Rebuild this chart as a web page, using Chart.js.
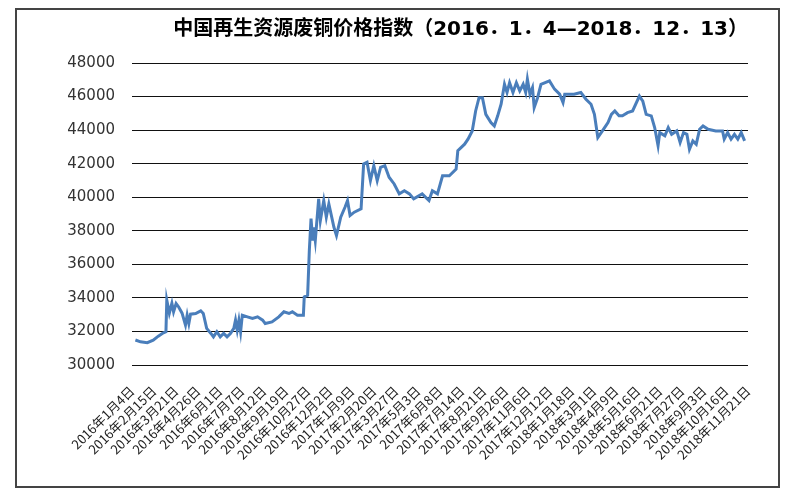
<!DOCTYPE html>
<html>
<head>
<meta charset="utf-8">
<script src="https://cdn.jsdelivr.net/npm/chart.js@4.4.1/dist/chart.umd.min.js"></script>
<style>
  html, body { margin: 0; padding: 0; background: #fff; }
  #wrap { width: 800px; height: 500px; }
</style>
</head>
<body>
<div id="wrap"><canvas id="canvas" width="800" height="500"></canvas></div>
<script>
// trading day index (from 2016.1.4) and price
var days = [
  0, 6, 14, 21, 27, 33, 36, 37, 40, 43, 45, 48, 51, 55, 59, 61, 63, 65, 71, 77,
  80, 84, 89, 92, 96, 100, 104, 108, 112, 116, 118, 120, 122, 124, 126, 132, 138, 144, 150, 153,
  161, 169, 175, 181, 185, 191, 198, 199, 203, 205, 207, 209, 210, 212, 216, 218, 222, 225, 228, 234,
  237, 242, 247, 250, 253, 258, 266, 269, 273, 277, 281, 285, 289, 294, 299, 305, 311, 317, 323, 328,
  338, 346, 350, 356, 362, 370, 378, 380, 388, 392, 397, 401, 405, 409, 413, 419, 423, 427, 431, 435,
  438, 441, 445, 449, 453, 457, 460, 462, 465, 468, 470, 474, 478, 488, 494, 500, 504, 506, 517, 525,
  531, 537, 541, 545, 549, 553, 557, 561, 565, 570, 574, 580, 586, 594, 598, 602, 608, 612, 616, 618,
  624, 628, 632, 638, 642, 646, 650, 653, 657, 661, 665, 669, 675, 684, 692, 694, 698, 702, 706, 710,
  714, 718
];
var prices = [
  31490, 31380, 31330, 31480, 31720, 31920, 31980, 33860, 33090, 33680, 33170, 33660, 33460, 33090, 32380, 32970, 32470, 33030, 33070, 33230,
  33070, 32180, 31880, 31680, 31980, 31680, 31880, 31680, 31880, 32180, 32670, 32080, 32670, 31980, 32970, 32870, 32770, 32870, 32670, 32470,
  32570, 32870, 33170, 33070, 33170, 32970, 32970, 34060, 34160, 36830, 38720, 37420, 38210, 37420, 39900, 38610, 39800, 38810, 39600, 38210,
  37720, 38810, 39400, 39800, 38910, 39110, 39310, 41980, 42080, 40990, 41880, 40990, 41780, 41880, 41190, 40790, 40200, 40390, 40200, 39900,
  40200, 39800, 40390, 40200, 41280, 41280, 41680, 42770, 43160, 43460, 43950, 45140, 45930, 45930, 44940, 44450, 44250, 44850, 45540, 46730,
  46240, 46830, 46240, 46830, 46340, 46730, 46240, 47030, 46140, 46530, 45340, 45930, 46730, 46930, 46440, 46140, 45640, 46140, 46140, 46240,
  45840, 45540, 44940, 43560, 43850, 44150, 44450, 44940, 45140, 44850, 44850, 45040, 45140, 46030, 45730, 44940, 44850, 44150, 43070, 43850,
  43660, 44150, 43750, 43950, 43260, 43850, 43750, 42860, 43360, 43160, 44050, 44250, 44050, 43950, 43950, 43460, 43850, 43460, 43750, 43460,
  43850, 43360
];
var dateLabels = [
  "2016年1月4日", "2016年2月15日", "2016年3月21日", "2016年4月26日", "2016年6月1日",
  "2016年7月7日", "2016年8月12日", "2016年9月19日", "2016年10月27日", "2016年12月2日",
  "2017年1月9日", "2017年2月20日", "2017年3月27日", "2017年5月3日", "2017年6月8日",
  "2017年7月14日", "2017年8月21日", "2017年9月26日", "2017年11月6日", "2017年12月12日",
  "2018年1月18日", "2018年3月1日", "2018年4月9日", "2018年5月16日", "2018年6月21日",
  "2018年7月27日", "2018年9月3日", "2018年10月16日", "2018年11月21日"
];
var titleText = "中国再生资源废铜价格指数（2016．1．4—2018．12．13）";

var points = [];
for (var i = 0; i < days.length; i++) points.push({ x: days[i], y: prices[i] });

var frame = {
  id: 'frame',
  beforeDraw: function(chart) {
    var c = chart.ctx;
    c.save();
    c.fillStyle = '#fff';
    c.fillRect(0, 0, chart.width, chart.height);
    c.strokeStyle = '#444';
    c.lineWidth = 2;
    c.strokeRect(16, 9, 763, 478);
    c.restore();
  }
};

new Chart(document.getElementById('canvas').getContext('2d'), {
  type: 'line',
  data: {
    datasets: [{
      data: points,
      xAxisID: 'x',
      borderColor: '#4a7ebb',
      borderWidth: 3,
      pointRadius: 0,
      tension: 0,
      fill: false
    }]
  },
  options: {
    responsive: false,
    animation: false,
    layout: { padding: { left: 20, right: 52, top: 10, bottom: 15 } },
    plugins: {
      legend: { display: false },
      tooltip: { enabled: false },
      title: {
        display: true,
        text: titleText,
        align: 'end',
        color: '#000',
        font: { family: "'DejaVu Sans', 'Noto Sans CJK SC'", size: 20, weight: 'bold' },
        padding: { top: 8, bottom: 21 }
      }
    },
    scales: {
      x: {
        type: 'linear',
        display: false,
        min: -4,
        max: 722
      },
      xd: {
        type: 'category',
        position: 'bottom',
        labels: dateLabels,
        offset: false,
        grid: { display: false, drawTicks: false },
        border: { display: false },
        ticks: {
          autoSkip: false,
          minRotation: 45,
          maxRotation: 45,
          padding: 18,
          color: '#222',
          font: { family: "'Noto Sans CJK SC'", size: 13 }
        },
        afterFit: function(scale) { scale.height = 120; }
      },
      y: {
        min: 30000,
        max: 48000,
        ticks: {
          stepSize: 2000,
          padding: 17,
          color: '#333',
          font: { family: "'DejaVu Sans'", size: 15 },
          callback: function(v) { return String(v); }
        },
        grid: { color: '#111', lineWidth: 1, drawTicks: false },
        border: { display: false },
        afterFit: function(scale) { scale.width = 112; }
      }
    }
  },
  plugins: [frame]
});
</script>
</body>
</html>
